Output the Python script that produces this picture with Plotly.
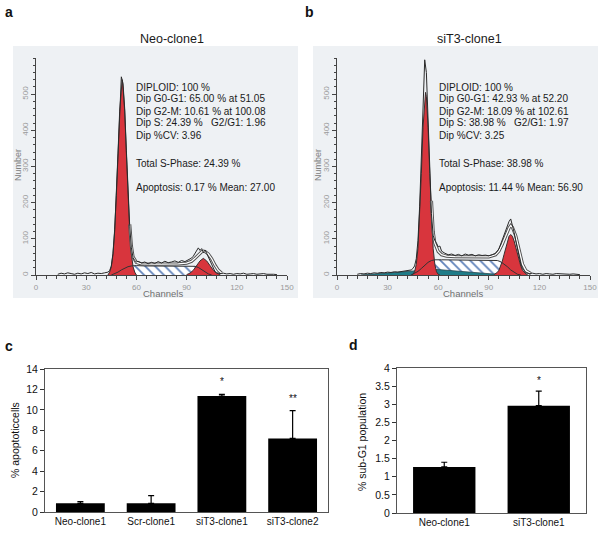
import plotly.graph_objects as go

W, H = 602, 539
FONT = "Liberation Sans, Arial, sans-serif"

# ---------------- Panel a : Neo-clone1 (cell-cycle histogram) ----------------
a_raw_ch = [13, 15, 17, 19, 21, 23, 25, 27, 29, 31, 33, 35, 37, 39, 41, 43,
            44, 45, 46, 47, 48, 49, 50, 51, 52, 53, 54, 55, 56, 57, 58, 59, 60,
            61,
            63, 65, 67, 69, 71, 73, 75, 77, 79, 81, 83, 85, 87, 89, 91, 93,
            94, 95, 96, 97, 98, 99, 100, 101, 102, 103, 104, 105, 106, 107, 108,
            110, 112, 114, 116, 118, 120, 122, 124, 126, 128, 130, 132, 134, 136, 138, 140, 142, 144]
a_raw_n = [2, 5, 3, 6, 4, 2, 5, 3, 6, 4, 7, 3, 5, 4, 6, 8,
           12, 25, 60, 125, 220, 345, 460, 548, 530, 460, 345, 225, 135, 75, 48, 40, 36,
           38,
           33, 36, 31, 35, 32, 37, 33, 38, 34, 36, 39, 35, 40, 37, 41, 47,
           52, 60, 66, 75, 68, 73, 62, 69, 60, 50, 37, 25, 15, 9, 6,
           4, 5, 3, 4, 2, 4, 3, 5, 2, 3, 4, 2, 3, 4, 2, 3, 2, 1]
a_g1_ch = [43, 44, 45, 46, 47, 48, 49, 50, 51, 51.5, 52, 53, 54, 55, 56, 57, 58, 59, 60]
a_g1_n = [0, 8, 23, 57, 120, 216, 337, 453, 520, 540, 520, 453, 337, 216, 120, 57, 23, 8, 0]
a_g2_ch = [90, 92, 94, 96, 98, 100, 102, 104, 106, 108, 110]
a_g2_n = [1, 5, 13, 26, 39, 46, 39, 26, 13, 5, 1]
a_s_ch = [45, 47, 49, 51, 53, 55, 57, 60, 65, 70, 75, 80, 85, 90, 93, 95, 97, 99, 101, 103, 105]
a_s_n = [0, 3, 8, 14, 19, 23, 25, 26, 25, 25, 25, 25, 25, 25, 25, 24, 21, 15, 8, 3, 0]
a_fit_ch = [56, 57, 58, 60, 63, 66, 70, 75, 80, 85, 90, 93, 95, 97, 99, 100, 101, 103, 105, 107, 109, 111]
a_fit_n = [140, 80, 50, 35, 31, 30, 30, 30, 30, 31, 33, 38, 46, 56, 64, 66, 65, 58, 45, 27, 13, 5]
a_marks = [51.05, 100.08]
a_title = "Neo-clone1"
a_text = ["DIPLOID: 100 %",
          "Dip G0-G1: 65.00 % at 51.05",
          "Dip G2-M: 10.61 % at 100.08",
          "Dip S: 24.39 %\u00a0\u00a0 G2/G1: 1.96",
          "Dip %CV: 3.96",
          "Total S-Phase: 24.39 %",
          "Apoptosis: 0.17 % Mean: 27.00"]

# ---------------- Panel b : siT3-clone1 ----------------
b_raw_ch = [12, 14, 16, 18, 20, 22, 24, 26, 28, 30, 32, 34, 36, 38, 40, 42, 44,
            45, 46, 47, 48, 49, 50, 51, 52, 53, 54, 55, 56, 57, 58, 59, 60, 61, 62,
            64, 66, 68, 70, 72, 74, 76, 78, 80, 82, 84, 86, 88, 90, 92, 94, 96,
            97, 98, 99, 100, 101, 102, 103, 104, 105, 106, 107, 108, 109, 110, 111, 112,
            114, 116, 118, 120, 122, 124, 126, 128, 130, 132, 134, 136, 138, 140, 142, 144]
b_raw_n = [2, 4, 3, 5, 4, 6, 5, 7, 6, 8, 7, 9, 8, 10, 11, 12, 14,
           18, 25, 45, 95, 190, 330, 480, 595, 560, 430, 290, 170, 110, 95, 88, 78, 80, 66,
           60, 56, 58, 54, 57, 53, 58, 55, 57, 53, 56, 54, 55, 53, 56, 60, 72,
           85, 100, 115, 128, 140, 148, 155, 140, 118, 95, 70, 48, 30, 18, 10, 6,
           4, 5, 3, 4, 2, 4, 3, 2, 4, 3, 2, 3, 2, 3, 2, 1]
b_g1_ch = [44, 45, 46, 47, 48, 49, 50, 51, 52, 52.5, 53, 54, 55, 56, 57, 58, 59, 60, 61]
b_g1_n = [0, 2, 9, 29, 74, 159, 280, 408, 493, 505, 493, 408, 280, 159, 74, 29, 9, 2, 0]
b_g2_ch = [93, 94, 95, 96, 97, 98, 99, 100, 101, 102, 103, 104, 105, 106, 107, 108, 109, 110, 111, 112, 113]
b_g2_n = [1, 3, 7, 13, 24, 38, 56, 76, 94, 107, 112, 107, 94, 76, 56, 38, 24, 13, 7, 3, 1]
b_s_ch = [44, 46, 48, 50, 52, 54, 56, 58, 62, 70, 80, 90, 95, 97, 99, 101, 103, 105, 107, 109]
b_s_n = [0, 4, 10, 18, 27, 35, 40, 42, 42, 42, 41, 41, 40, 37, 31, 23, 14, 7, 2, 0]
b_apo_ch = [14, 20, 25, 30, 35, 40, 45, 50, 55, 60, 65, 70, 75, 80, 85, 90, 95, 100]
b_apo_n = [0, 2, 3, 5, 7, 9, 11, 14, 16, 15, 13, 11, 9, 7, 5, 3, 1, 0]
b_fit_ch = [56, 57, 58, 59, 60, 62, 65, 70, 80, 90, 94, 96, 98, 100, 102, 103, 104, 106, 108, 110, 112, 115]
b_fit_n = [205, 120, 88, 75, 65, 56, 52, 51, 50, 50, 56, 66, 85, 110, 130, 137, 132, 108, 65, 30, 12, 4]
b_marks = [52.20, 102.61]
b_title = "siT3-clone1"
b_text = ["DIPLOID: 100 %",
          "Dip G0-G1: 42.93 % at 52.20",
          "Dip G2-M: 18.09 % at 102.61",
          "Dip S: 38.98 %\u00a0\u00a0 G2/G1: 1.97",
          "Dip %CV: 3.25",
          "Total S-Phase: 38.98 %",
          "Apoptosis: 11.44 % Mean: 56.90"]

# histogram tick labels
hist_x_ticks = [0, 30, 60, 90, 120, 150]
hist_y_ticks = [0, 100, 200, 300, 400, 500]

# ---------------- Panel c : % apoptotic cells ----------------
c_cats = ["Neo-clone1", "Scr-clone1", "siT3-clone1", "siT3-clone2"]
c_vals = [0.85, 0.85, 11.35, 7.2]
c_err = [0.17, 0.75, 0.17, 2.72]
c_sig = ["", "", "*", "**"]

# ---------------- Panel d : % sub-G1 population ----------------
d_cats = ["Neo-clone1", "siT3-clone1"]
d_vals = [1.27, 2.96]
d_err = [0.13, 0.40]
d_sig = ["", "*"]


def px(x):
    return x / W


def py(y):
    return 1 - y / H


RED = "#d8353d"
EDGE = "#3a3030"
fig = go.Figure()


def add_hist(xa, ya, raw_ch, raw_n, g1_ch, g1_n, g2_ch, g2_n, s_ch, s_n,
             fit_ch, fit_n, marks, apo_ch=None, apo_n=None):
    kw = dict(xaxis=xa, yaxis=ya, hoverinfo="skip", showlegend=False)
    # S-phase (hatched)
    fig.add_trace(go.Scatter(x=s_ch, y=s_n, mode="lines", fill="tozeroy",
                             line=dict(width=0, color="#4b6fa8"),
                             fillcolor="white",
                             fillpattern=dict(shape="\\", fgcolor="#6083bb", bgcolor="white",
                                              size=7, solidity=0.25),
                             **kw))
    if apo_ch is not None:
        fig.add_trace(go.Scatter(x=apo_ch, y=apo_n, mode="lines", fill="tozeroy",
                                 fillcolor="#1f7c88", line=dict(width=0.8, color="#2a4a50"),
                                 **kw))
    for cx, cy in ((g1_ch, g1_n), (g2_ch, g2_n)):
        fig.add_trace(go.Scatter(x=cx, y=cy, mode="lines", fill="tozeroy",
                                 fillcolor=RED, line=dict(width=1, color=EDGE), **kw))
    # S-phase outline
    fig.add_trace(go.Scatter(x=s_ch, y=s_n, mode="lines",
                             line=dict(width=1, color="#333"), **kw))
    # model fit (white band with dark edges)
    fig.add_trace(go.Scatter(x=fit_ch, y=fit_n, mode="lines",
                             line=dict(width=3.2, color="#505050"), **kw))
    fig.add_trace(go.Scatter(x=fit_ch, y=fit_n, mode="lines",
                             line=dict(width=1.3, color="white"), **kw))
    # raw data histogram
    fig.add_trace(go.Scatter(x=raw_ch, y=raw_n, mode="lines",
                             line=dict(width=1, color="#2a2a2a"), **kw))
    # peak markers
    fig.add_trace(go.Scatter(x=marks, y=[-9] * len(marks), mode="markers",
                             marker=dict(symbol="triangle-up", size=9, color="#333"),
                             cliponaxis=False, **kw))


add_hist("x", "y", a_raw_ch, a_raw_n, a_g1_ch, a_g1_n, a_g2_ch, a_g2_n, a_s_ch, a_s_n,
         a_fit_ch, a_fit_n, a_marks)
add_hist("x2", "y2", b_raw_ch, b_raw_n, b_g1_ch, b_g1_n, b_g2_ch, b_g2_n, b_s_ch, b_s_n,
         b_fit_ch, b_fit_n, b_marks, b_apo_ch, b_apo_n)

err_style = dict(type="data", symmetric=False, color="black", thickness=1.2, width=3)
fig.add_trace(go.Bar(x=c_cats, y=c_vals, marker=dict(color="black", line=dict(width=0)),
                     width=0.69, error_y=dict(array=c_err, arrayminus=[0] * len(c_err), **err_style),
                     xaxis="x3", yaxis="y3", showlegend=False, hoverinfo="skip"))
fig.add_trace(go.Bar(x=d_cats, y=d_vals, marker=dict(color="black", line=dict(width=0)),
                     width=0.66, error_y=dict(array=d_err, arrayminus=[0] * len(d_err), **err_style),
                     xaxis="x4", yaxis="y4", showlegend=False, hoverinfo="skip"))


def hist_x(x0, x1, ya):
    return dict(domain=[px(x0), px(x1)], range=[0, 150], anchor=ya, automargin=False,
                showline=True, linecolor="#444",
                linewidth=1, ticks="outside", ticklen=4, tickcolor="#444", tickwidth=1,
                tickmode="array", tickvals=hist_x_ticks, showgrid=False, zeroline=False,
                tickfont=dict(size=8, color="#9a9a9a", family=FONT),
                minor=dict(ticks="outside", dtick=6, tick0=0, ticklen=2.5, tickcolor="#444"),
                fixedrange=True)


def hist_y(xa):
    return dict(domain=[py(275), py(58)], range=[0, 600], anchor=xa, automargin=False,
                showline=True,
                linecolor="#444", linewidth=1, ticks="outside", ticklen=4, tickcolor="#444",
                tickmode="array", tickvals=hist_y_ticks, tickangle=-90, showgrid=False,
                zeroline=False,
                tickfont=dict(size=8, color="#9a9a9a", family=FONT),
                minor=dict(ticks="outside", dtick=20, tick0=0, ticklen=2.5, tickcolor="#444"),
                fixedrange=True)


def bar_x(x0, x1, ya):
    return dict(domain=[px(x0), px(x1)], anchor=ya, automargin=False, showline=True,
                mirror=True, linecolor="#555", linewidth=1, ticks="", showgrid=False,
                zeroline=False, tickfont=dict(size=10, color="#111", family=FONT),
                fixedrange=True)


def bar_y(y0, y1, xa, rng, dt):
    return dict(domain=[py(y0), py(y1)], anchor=xa, automargin=False, range=rng, dtick=dt,
                showline=True, mirror=True, linecolor="#555", linewidth=1, ticks="outside",
                ticklen=4, tickcolor="#333", showgrid=False, zeroline=False,
                tickfont=dict(size=10.5, color="#111", family=FONT), fixedrange=True)


ann = []


def text(x, y, s, size=10, color="#1a1a1a", xanchor="center", angle=0, bold=False):
    ann.append(dict(x=px(x), y=py(y), xref="paper", yref="paper",
                    text=f"<b>{s}</b>" if bold else s,
                    showarrow=False, xanchor=xanchor, yanchor="middle", textangle=angle,
                    font=dict(size=size, color=color, family=FONT)))


text(9, 12, "a", size=14, bold=True, color="#111")
text(309, 12, "b", size=14, bold=True, color="#111")
text(9, 346, "c", size=14, bold=True, color="#111")
text(353, 345, "d", size=14, bold=True, color="#111")
text(172, 39, a_title, size=12.5)
text(469, 39, b_title, size=12.5)
line_y = [87, 99, 111, 123, 135, 163, 188]
for s, yy in zip(a_text, line_y):
    text(134, yy, s, xanchor="left")
for s, yy in zip(b_text, line_y):
    text(437, yy, s, xanchor="left")
for xx in (18, 318):
    text(xx, 165, "Number", size=9, color="#808080", angle=-90)
text(163, 293, "Channels", size=9.5, color="#707070")
text(463, 293, "Channels", size=9.5, color="#707070")
text(15, 440, "% apoptoticcells", size=10.5, color="#111", angle=-90)
text(362, 442, "% sub-G1 population", size=10.5, color="#111", angle=-90)

for cat, v, e, s in zip(c_cats, c_vals, c_err, c_sig):
    if s:
        ann.append(dict(x=cat, y=v + e + 0.5, xref="x3", yref="y3", text=s, showarrow=False,
                        yanchor="bottom", font=dict(size=10, color="#111111", family=FONT)))
for cat, v, e, s in zip(d_cats, d_vals, d_err, d_sig):
    if s:
        ann.append(dict(x=cat, y=v + e + 0.1, xref="x4", yref="y4", text=s, showarrow=False,
                        yanchor="bottom", font=dict(size=10, color="#111111", family=FONT)))

shapes = [
    dict(type="rect", xref="paper", yref="paper", x0=px(13), x1=px(298), y0=py(298), y1=py(46),
         fillcolor="#eef1f4", line=dict(width=0), layer="below"),
    dict(type="rect", xref="paper", yref="paper", x0=px(313), x1=px(598), y0=py(298), y1=py(46),
         fillcolor="#eef1f4", line=dict(width=0), layer="below"),
]

fig.update_layout(
    template="none",
    width=W, height=H, margin=dict(l=0, r=0, t=0, b=0, autoexpand=False),
    paper_bgcolor="white", plot_bgcolor="rgba(0,0,0,0)",
    showlegend=False,
    font=dict(family=FONT),
    xaxis=hist_x(36, 287, "y"), yaxis=hist_y("x"),
    xaxis2=hist_x(337, 590, "y2"), yaxis2=hist_y("x2"),
    xaxis3=bar_x(45, 328, "y3"), yaxis3=bar_y(512, 369, "x3", [0, 14], 2),
    xaxis4=bar_x(397, 586, "y4"), yaxis4=bar_y(513, 368, "x4", [0, 4], 0.5),
    annotations=ann, shapes=shapes,
)

fig.write_html("out.html", config={"displayModeBar": False, "staticPlot": True},
               post_script="document.body.style.margin='0';document.body.style.overflow='hidden';")
